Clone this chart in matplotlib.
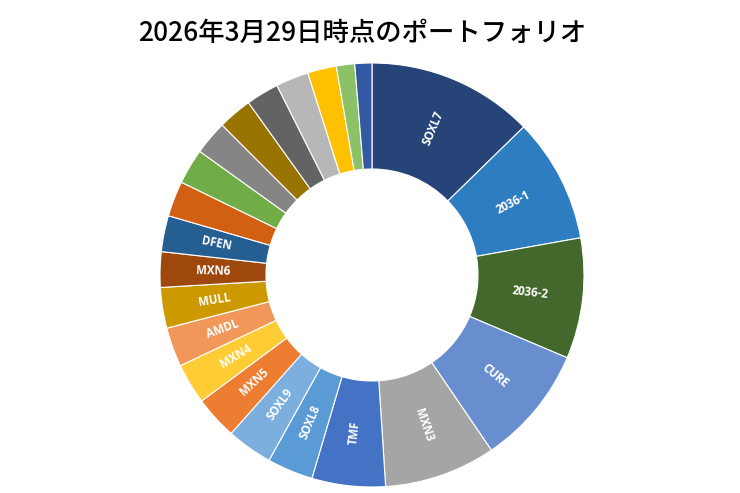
import numpy as np
import matplotlib
matplotlib.use("Agg")
import matplotlib.pyplot as plt

# portfolio weights (%), clockwise from 12 o'clock
names = ["SOXL7", "2036-1", "2036-2", "CURE", "MXN3", "TMF", "SOXL8", "SOXL9",
         "MXN5", "MXN4", "AMDL", "MULL", "MXN6", "DFEN",
         "", "", "", "", "", "", "", "", ""]
weights = [12.7, 9.5, 9.2, 9.1, 8.5, 5.6, 3.5, 3.5,
           3.3, 3.1, 3.0, 3.1, 2.7, 2.75,
           2.7, 2.7, 2.6, 2.6, 2.5, 2.5, 2.2, 1.4, 1.3]
colors = ["#264478", "#2F7DC1", "#43682B", "#698ED0", "#A5A5A5", "#4472C4",
          "#5B9BD5", "#7CAFDD", "#ED7D31", "#FFCD33", "#F1975A", "#CC9A00",
          "#9E480E", "#255E91", "#D26012", "#70AD47", "#858585", "#997300",
          "#636363", "#B7B7B7", "#FFC000", "#8CC168", "#3359A0"]

fig = plt.figure(figsize=(7.4, 4.93), dpi=100)

# donut centre ~ (372, 275) px, outer radius ~212 px
cx, cy, r = 372, 275, 212
ax = fig.add_axes([(cx - r) / 740, (493 - cy - r) / 493, 2 * r / 740, 2 * r / 493])

wedges, _ = ax.pie(weights, colors=colors, startangle=90, counterclock=False,
                   radius=1.0, wedgeprops=dict(width=0.5, edgecolor="white", linewidth=0.8))
ax.set_xlim(-1, 1)
ax.set_ylim(-1, 1)
ax.set_aspect("equal")

# radial labels in the middle of the ring
for w, name in zip(wedges, names):
    if not name:
        continue
    ang = (w.theta1 + w.theta2) / 2
    x = 0.75 * np.cos(np.deg2rad(ang))
    y = 0.75 * np.sin(np.deg2rad(ang))
    rot = (ang + 180) % 360 - 180
    if rot > 90:
        rot -= 180
    elif rot < -90:
        rot += 180
    ax.text(x, y, name, rotation=rot, rotation_mode="anchor", ha="center", va="center",
            color="white", fontsize=8.3, fontweight="bold", family="Open Sans")

fig.text(0.489, 0.932, "2026年3月29日時点のポートフォリオ", ha="center", va="center",
         fontsize=19, fontweight="medium", family=["Noto Sans CJK JP", "DejaVu Sans"])

fig.savefig("out.png", dpi=100)
